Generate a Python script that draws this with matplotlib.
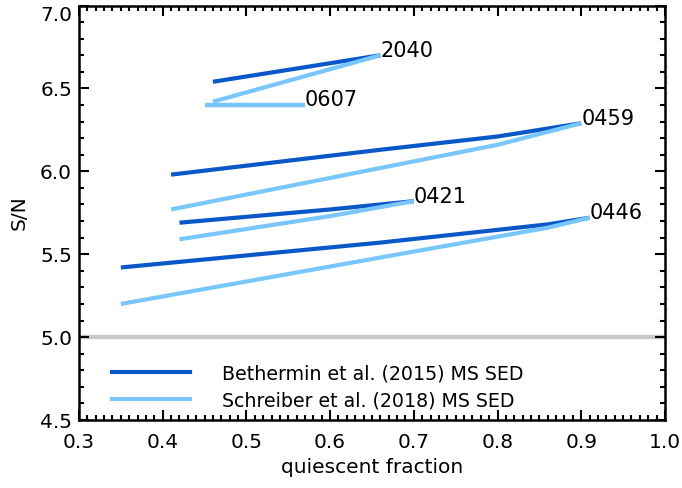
import numpy as np
import matplotlib
matplotlib.use('Agg')
import matplotlib.pyplot as plt
import matplotlib.ticker as ticker

# quiescent fraction / S/N per field, two MS SED templates
q_2040 = [0.46, 0.66]
sn_2040_beth = [6.54, 6.70]
sn_2040_schr = [6.42, 6.70]

q_0607 = [0.45, 0.57]
sn_0607_beth = [6.40, 6.40]
sn_0607_schr = [6.40, 6.40]

q_0459 = [0.41, 0.66, 0.80, 0.90]
sn_0459_beth = [5.98, 6.13, 6.21, 6.29]
sn_0459_schr = [5.77, 6.02, 6.16, 6.29]

q_0421 = [0.42, 0.60, 0.70]
sn_0421_beth = [5.69, 5.77, 5.82]
sn_0421_schr = [5.59, 5.73, 5.82]

q_0446 = [0.35, 0.66, 0.86, 0.91]
sn_0446_beth = [5.42, 5.57, 5.68, 5.72]
sn_0446_schr = [5.20, 5.48, 5.66, 5.72]

fields = ['2040', '0607', '0459', '0421', '0446']
q_all = [q_2040, q_0607, q_0459, q_0421, q_0446]
beth_all = [sn_2040_beth, sn_0607_beth, sn_0459_beth, sn_0421_beth, sn_0446_beth]
schr_all = [sn_2040_schr, sn_0607_schr, sn_0459_schr, sn_0421_schr, sn_0446_schr]

c_dark = '#0a58c8'
c_light = '#78c6fc'

plt.rcParams['font.family'] = ['DejaVu Sans']
fig = plt.figure(figsize=(6.82, 4.88), dpi=100)
ax = fig.add_axes([0.1158, 0.1393, 0.8592, 0.8494])

ax.axhline(5.0, color='#c8c8c8', lw=3.2, zorder=1)

for name, q, sb, ss in zip(fields, q_all, beth_all, schr_all):
    ax.plot(q, sb, color=c_dark, lw=3, solid_capstyle='butt', zorder=2)
    ax.plot(q, ss, color=c_light, lw=3, solid_capstyle='butt', zorder=3)
    ax.annotate(name, (q[-1], sb[-1]), xytext=(0, -1), textcoords='offset points',
                ha='left', va='baseline', fontsize=15)

ax.plot([], [], color=c_dark, lw=3, label='Bethermin et al. (2015) MS SED')
ax.plot([], [], color=c_light, lw=3, label='Schreiber et al. (2018) MS SED')
ax.legend(loc='upper left', bbox_to_anchor=(0.056, 0.135), frameon=False,
          fontsize=13.7, handlelength=4.1, handletextpad=1.7, labelspacing=0.42,
          borderpad=0, borderaxespad=0)

ax.set_xlim(0.3, 1.0)
ax.set_ylim(4.5, 7.0)
ax.xaxis.set_major_locator(ticker.MultipleLocator(0.1))
ax.xaxis.set_minor_locator(ticker.MultipleLocator(0.01))
ax.yaxis.set_major_locator(ticker.MultipleLocator(0.5))
ax.yaxis.set_minor_locator(ticker.MultipleLocator(0.1))
ax.xaxis.set_major_formatter(ticker.FormatStrFormatter('%.1f'))
ax.yaxis.set_major_formatter(ticker.FormatStrFormatter('%.1f'))
ax.tick_params(which='both', direction='in', top=True, right=True,
               labelsize=14.5, width=1.5)
ax.tick_params(axis='x', which='both', pad=9)
ax.tick_params(axis='y', which='both', pad=5)
ax.tick_params(which='major', length=7.5)
ax.tick_params(which='minor', length=3.5)
for s in ax.spines.values():
    s.set_linewidth(1.8)

ax.set_xlabel('quiescent fraction', fontsize=14.5, labelpad=5)
ax.set_ylabel('S/N', fontsize=14.5, labelpad=8)

# top label sits below its tick so it stays inside the figure
fig.canvas.draw()
ax.get_yticklabels()[-1].set_va('top')
for lab in ax.get_yticklabels():
    if lab.get_text() == '7.0':
        lab.set_va('top')

fig.savefig('out.png', dpi=100)
